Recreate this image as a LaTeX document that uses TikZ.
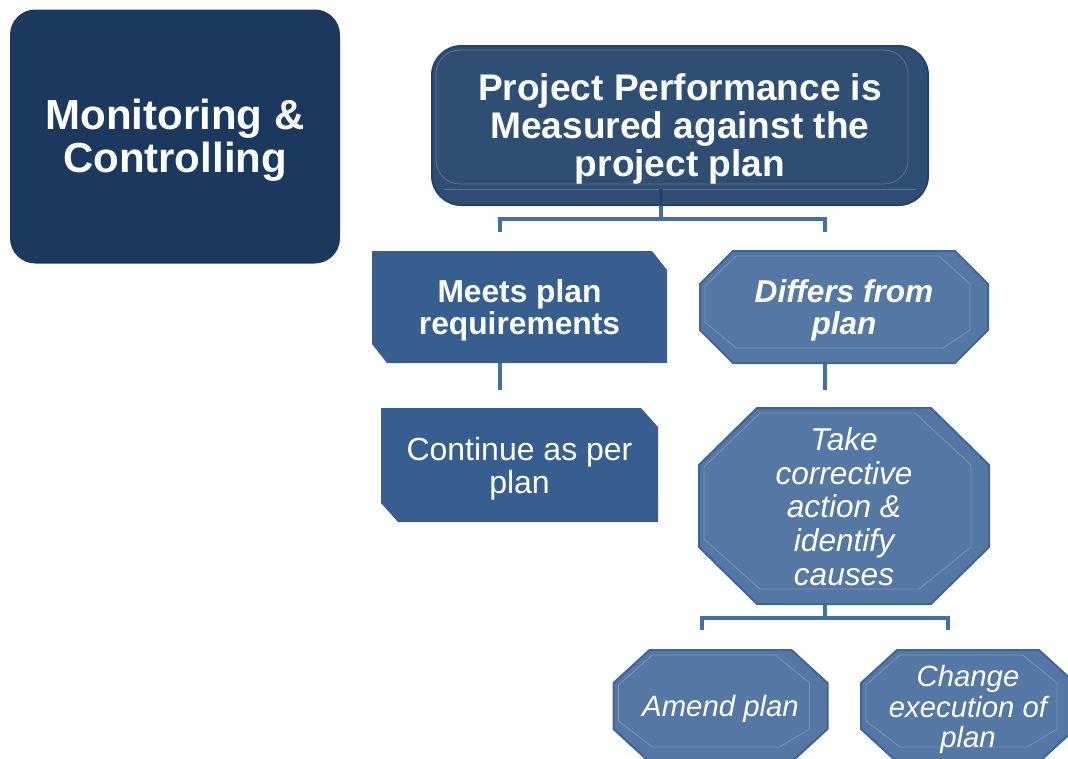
\documentclass[tikz,border=0pt]{standalone}
\usepackage{fontspec}
\setmainfont{Liberation Sans}
\usetikzlibrary{calc}
\pgfdeclarelayer{background}
\pgfsetlayers{background,main}
\definecolor{navy}{HTML}{1B385F}
\definecolor{topc}{HTML}{2F4E73}
\definecolor{topb}{HTML}{22426A}
\definecolor{meetc}{HTML}{365F8F}
\definecolor{octc}{HTML}{5577A3}
\definecolor{octb}{HTML}{3D669B}
\definecolor{connc}{HTML}{4270A8}
\tikzset{
  box/.style 2 args={minimum width=#1*0.75pt, minimum height=#2*0.75pt, inner sep=0pt, outer sep=0pt},
  txt/.style={inner sep=0pt, align=center, text=white},
  conn/.style={draw=connc, line width=3pt, line join=miter},
  octfill/.style={fill=octc, draw=octb, line width=1.5pt, line join=miter},
  innerline/.style={draw=white, draw opacity=0.22, line width=0.6pt},
}
\newcommand{\octshape}[3]{%
  \path[octfill] ($(#1.north west)+(#2,0)$) -- ($(#1.north east)+(-#2,0)$) -- ($(#1.north east)+(0,#3)$) -- ($(#1.south east)+(0,-#3)$) -- ($(#1.south east)+(-#2,0)$) -- ($(#1.south west)+(#2,0)$) -- ($(#1.south west)+(0,-#3)$) -- ($(#1.north west)+(0,#3)$) -- cycle;
  \path[innerline] ($(#1.north west)+(#2+3,5)$) -- ($(#1.north east)+(-#2-16,5)$) -- ($(#1.north east)+(-18,#3)$) -- ($(#1.south east)+(-18,-#3)$) -- ($(#1.south east)+(-#2-12,-15)$) -- ($(#1.south west)+(#2+3,-15)$) -- ($(#1.south west)+(5,-#3-8)$) -- ($(#1.north west)+(5,#3+2)$) -- cycle;
}
\newcommand{\snipshape}[4]{%
  \fill[#4] (#1.north west) -- ($(#1.north east)+(-#2,0)$) -- ($(#1.north east)+(0,#3)$) -- (#1.south east) -- ($(#1.south west)+(#2,0)$) -- ($(#1.south west)+(0,-#3)$) -- cycle;
}
\begin{document}
\begin{tikzpicture}[x=0.75pt,y=-0.75pt]
\useasboundingbox (0,0) rectangle (1068,758);
\clip (0,0) rectangle (1068,758);

% shape frames
\node[box={330}{254}, fill=navy, rounded corners=19pt] (mc) at (175,136.5) {};
\node[box={496}{159}] (top) at (680,125.5) {};
\node[box={295}{112}] (meets) at (519.5,307) {};
\node[box={288}{112}] (differs) at (844,307) {};
\node[box={277}{114}] (cont) at (519.5,465) {};
\node[box={290}{196}] (take) at (844,506) {};
\node[box={214}{112}] (amend) at (720.5,706) {};
\node[box={214}{112}] (change) at (968,706) {};

% texts
\node[txt, font=\fontsize{31.5pt}{32.5pt}\selectfont\bfseries] (mc-t) at ($(mc)+(0,3.5)$)
  {Monitoring \&\\Controlling};
\node[txt, font=\fontsize{27.8pt}{28.6pt}\selectfont\bfseries] (top-t) at ($(top)+(0,3.5)$)
  {Project Performance is\\Measured against the\\project plan};
\node[txt, font=\fontsize{23.8pt}{24pt}\selectfont\bfseries] (meets-t) at ($(meets)+(0,3)$)
  {Meets plan\\requirements};
\node[txt, font=\fontsize{23.7pt}{24pt}\selectfont\bfseries\itshape] (differs-t) at ($(differs)+(0,3)$)
  {Differs from\\plan};
\node[txt, font=\fontsize{24pt}{24.8pt}\selectfont] (cont-t) at ($(cont)+(0,3.5)$)
  {Continue as per\\plan};
\node[txt, font=\fontsize{23.7pt}{25.2pt}\selectfont\itshape] (take-t) at ($(take)+(0,0.5)$)
  {Take\\corrective\\action \&\\identify\\causes};
\node[txt, font=\fontsize{22pt}{22.9pt}\selectfont\itshape] (amend-t) at ($(amend)+(0,3)$)
  {Amend plan};
\node[txt, font=\fontsize{22pt}{22.9pt}\selectfont\itshape] (change-t) at ($(change)+(0,3.5)$)
  {Change\\execution of\\plan};

\begin{pgfonlayer}{background}
  % connectors
  \draw[conn] ($(top.south)+(-19,-10)$) -- ++(0,24) coordinate (tj);
  \draw[conn] ($(meets.north)+(-19.5,-19)$) |- (tj) -| ($(differs.north)+(-19,-19)$);
  \draw[conn] ($(meets.south)+(-19.5,-5)$) -- ($(cont.north)+(-19.5,-18)$);
  \draw[conn] ($(differs.south)+(-19,-12)$) -- ($(take.north)+(-19,-18)$);
  \draw[conn] ($(take.south)+(-19,-14)$) -- ++(0,28) coordinate (kj);
  \draw[conn] ($(amend.north)+(-18.5,-20)$) |- (kj) -| ($(change.north)+(-20,-20)$);

  % top rounded box
  \path[fill=topc, draw=topb, line width=1.5pt, rounded corners=22pt]
    (top.north west) rectangle (top.south east);
  \path[innerline, rounded corners=18pt]
    ($(top.north west)+(4,4)$) rectangle ($(top.south east)+(-20,-21)$);
  \path[innerline] ($(top.south west)+(12,-16)$) -- ($(top.south east)+(-12,-16)$);
  \draw[draw=topb, line width=3pt] ($(top.south)+(-19,-16)$) -- (top.south -| tj);

  % snipped boxes
  \snipshape{meets}{15}{19}{meetc}
  \snipshape{cont}{17}{19}{meetc}

  % octagons
  \octshape{differs}{33}{33}
  \octshape{take}{58}{57}
  \octshape{amend}{36}{33}
  \octshape{change}{36}{33}
\end{pgfonlayer}
\end{tikzpicture}
\end{document}
